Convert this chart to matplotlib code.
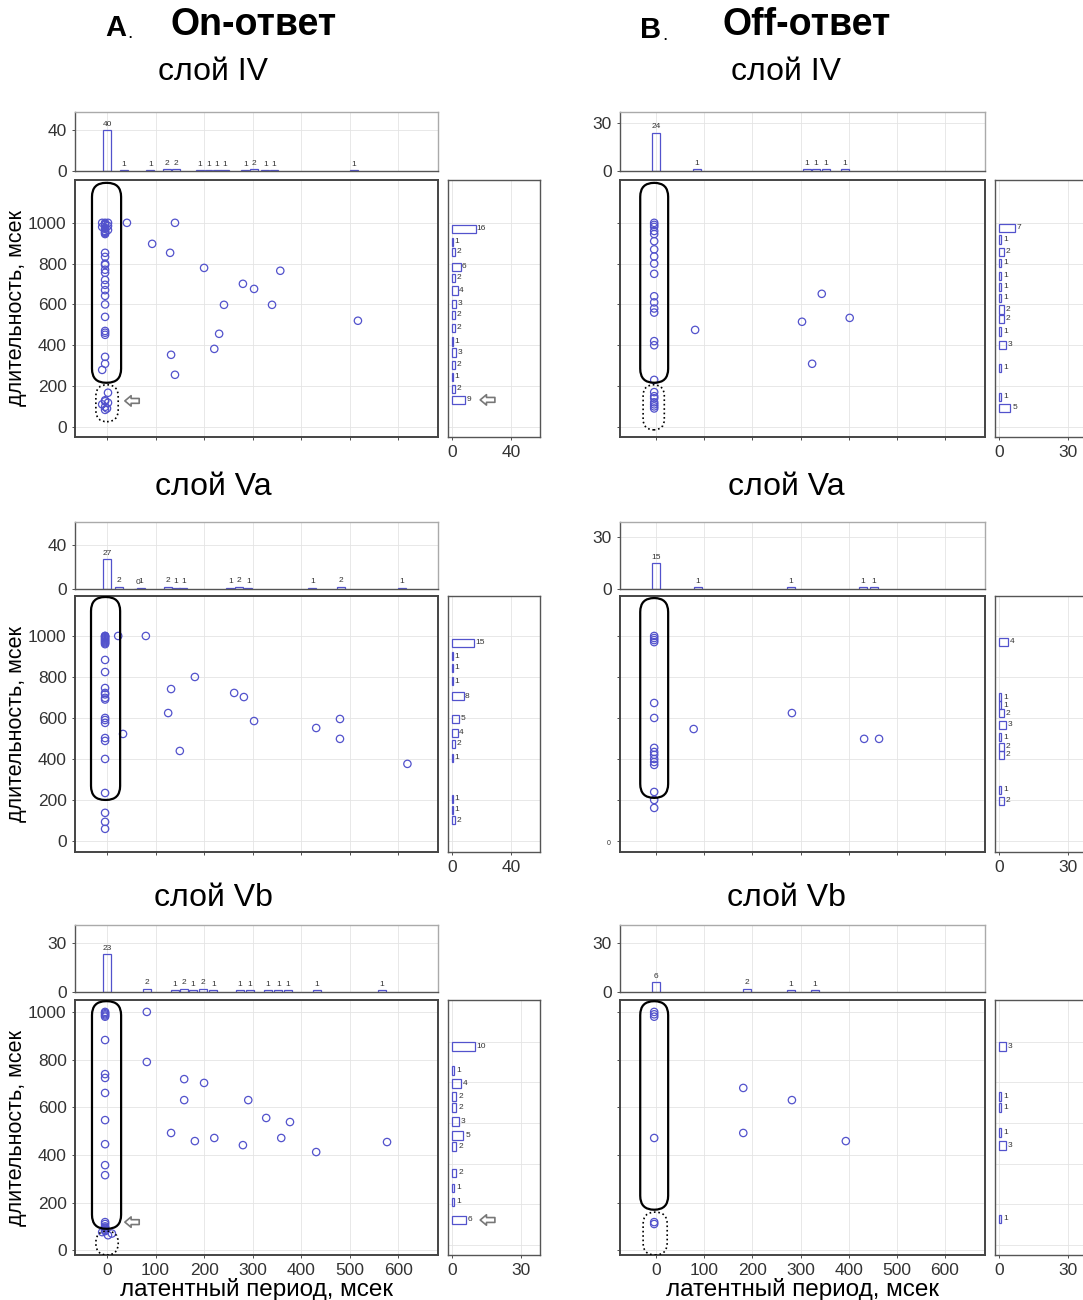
import matplotlib
matplotlib.use('Agg')
import matplotlib.pyplot as plt
from matplotlib.patches import FancyBboxPatch

plt.rcParams['font.family'] = ['Liberation Sans', 'DejaVu Sans']

W, H = 1083, 1300
fig = plt.figure(figsize=(W / 100, H / 100), dpi=100)

BLUE = '#5252cc'

# ---------------- DATA ----------------
# A, layer IV (On)
on_IV_lat = [-10, -4, 2, -4, -4, 2, -10, -4, -4, 2, -4, -4, -4, -4,
             -4, -4, -4, -4, -4, -4, -4, -4, -4, -4, -4, -4, -4, -4, -4, -4,
             -4, -10, 2, -4, -4, 2, -10, -4, 0, -4,
             41, 93, 140, 130, 200, 241, 231, 221, 132, 140, 280, 303, 357, 340, 517]
on_IV_dur = [1000, 1000, 1000, 995, 990, 985, 980, 975, 970, 965, 960, 955, 950, 945,
             853, 833, 800, 794, 770, 755, 720, 696, 670, 642, 600, 539, 470, 461, 451, 343,
             309, 279, 167, 130, 125, 118, 110, 98, 90, 83,
             1000, 897, 1000, 853, 779, 598, 456, 382, 353, 255, 701, 676, 765, 598, 520]
on_IV_lat_bins = [0, 35, 89, 124, 142, 192, 209, 226, 243, 285, 303, 326, 344, 509]
on_IV_lat_counts = [40, 1, 1, 2, 2, 1, 1, 1, 1, 1, 2, 1, 1, 1]
on_IV_dur_bins = [970, 907, 858, 784, 730, 667, 603, 549, 485, 417, 363, 304, 245, 186, 132]
on_IV_dur_counts = [16, 1, 2, 6, 2, 4, 3, 2, 2, 1, 3, 2, 1, 2, 9]

# B, layer IV (Off)
off_IV_lat = [-4, -4, -4, -4, -4, -4, -4, -4, -4, -4, -4, -4, -4, -4, -4, -4, -4,
              -4, -4, -4, -4, -4, -4, -4, 81, 303, 344, 324, 402]
off_IV_dur = [1000, 990, 980, 960, 945, 910, 870, 835, 800, 750, 640, 610, 580,
              560, 420, 400, 230, 170, 150, 140, 120, 110, 100, 90,
              475, 515, 652, 309, 534]
off_IV_lat_bins = [0, 85, 313, 332, 353, 392]
off_IV_lat_counts = [24, 1, 1, 1, 1, 1]
off_IV_dur_bins = [975, 917, 858, 804, 740, 686, 632, 574, 529, 466, 402, 289, 147, 93]
off_IV_dur_counts = [7, 1, 2, 1, 1, 1, 1, 2, 2, 1, 3, 1, 1, 5]

# A, layer Va (On)
on_Va_lat = [-4, -4, -4, -4, -4, -4, -4, -4, -4, -4, -4, -4, -4, -4, -4,
             -4, -4, -4, -4, -4, -4, -4, -4, -4, -4, -4, -4,
             23, 33, 80, 126, 132, 150, 181, 262, 282, 303, 431, 480, 480, 619]
on_Va_dur = [1000, 1000, 995, 990, 985, 980, 975, 970, 965, 960, 883, 824, 746, 722, 715,
             698, 690, 600, 590, 576, 502, 488, 400, 234, 137, 93, 59,
             1000, 522, 1000, 624, 741, 439, 800, 722, 702, 585, 551, 595, 498, 376]
on_Va_lat_bins = [0, 25, 64, 70, 126, 142, 157, 254, 272, 291, 423, 482, 608]
on_Va_lat_counts = [27, 2, 0, 1, 2, 1, 1, 1, 2, 1, 1, 2, 1]
on_Va_dur_bins = [966, 902, 844, 780, 707, 595, 527, 473, 405, 205, 151, 102]
on_Va_dur_counts = [15, 1, 1, 1, 8, 5, 4, 2, 1, 1, 1, 2]

# B, layer Va (Off)
off_Va_lat = [-4, -4, -4, -4, -4, -4, -4, -4, -4, -4, -4, -4, -4, -4, -4,
              78, 282, 432, 463]
off_Va_dur = [1000, 990, 980, 970, 673, 600, 454, 434, 420, 400, 385, 371, 239, 200, 161,
              546, 624, 498, 498]
off_Va_lat_bins = [0, 87, 280, 430, 452]
off_Va_lat_counts = [15, 1, 1, 1, 1]
off_Va_dur_bins = [971, 702, 663, 624, 566, 507, 459, 420, 249, 195]
off_Va_dur_counts = [4, 1, 1, 2, 3, 1, 2, 2, 1, 2]

# A, layer Vb (On)
on_Vb_lat = [-4, -4, -4, -4, -4, -4, -4, -4, -4, -4, -4, -4, -4, -4, -4,
             -4, -4, -4, -4, -4, -10, 2, 10,
             82, 82, 159, 159, 200, 132, 181, 221, 291, 280, 328, 359, 377, 431, 577]
on_Vb_dur = [1000, 995, 990, 985, 980, 882, 739, 723, 660, 546, 445, 357, 315,
             118, 110, 100, 95, 92, 85, 80, 76, 63, 70,
             1000, 790, 718, 630, 702, 492, 458, 471, 630, 441, 555, 471, 538, 412, 454]
on_Vb_lat_bins = [0, 82, 140, 159, 177, 198, 219, 274, 295, 332, 353, 373, 433, 567]
on_Vb_lat_counts = [23, 2, 1, 2, 1, 2, 1, 1, 1, 1, 1, 1, 1, 1]
on_Vb_dur_bins = [975, 857, 793, 729, 675, 606, 537, 483, 355, 281, 212, 123]
on_Vb_dur_counts = [10, 1, 4, 2, 2, 3, 5, 2, 2, 1, 1, 6]

# B, layer Vb (Off)
off_Vb_lat = [-4, -4, -4, -4, -4, -4, 181, 181, 282, 394]
off_Vb_dur = [1000, 990, 980, 471, 118, 110, 681, 492, 630, 458]
off_Vb_lat_bins = [0, 189, 280, 330]
off_Vb_lat_counts = [6, 2, 1, 1]
off_Vb_dur_bins = [975, 729, 675, 552, 489, 128]
off_Vb_dur_counts = [3, 1, 1, 1, 3, 1]

layer_titles = ['слой IV', 'слой Va', 'слой Vb']

# ---------------- LAYOUT (pixels) ----------------
def px_axes(l, t, r, b):
    return fig.add_axes([l / W, 1 - b / H, (r - l) / W, (b - t) / H])


def style(ax, lw=1.0, col='#555555'):
    for s in ax.spines.values():
        s.set_color(col)
        s.set_linewidth(lw)
    ax.grid(True, color='#e4e4e4', lw=0.6)
    ax.set_axisbelow(True)
    ax.tick_params(colors='#333333', length=2.5, width=0.6, labelsize=12.5)


rows = [
    dict(top=(112, 171), main=(180, 437), ylim=(-50, 1210), hylim=(-50, 1210)),
    dict(top=(522, 589), main=(596, 852), ylim=(-54, 1195), hylim=(-54, 1195)),
    dict(top=(925, 992), main=(1000, 1255), ylim=(-20, 1050), hylim=(-49, 1204)),
]

A_data = [
    (on_IV_lat, on_IV_dur, on_IV_lat_bins, on_IV_lat_counts, on_IV_dur_bins, on_IV_dur_counts),
    (on_Va_lat, on_Va_dur, on_Va_lat_bins, on_Va_lat_counts, on_Va_dur_bins, on_Va_dur_counts),
    (on_Vb_lat, on_Vb_dur, on_Vb_lat_bins, on_Vb_lat_counts, on_Vb_dur_bins, on_Vb_dur_counts),
]
B_data = [
    (off_IV_lat, off_IV_dur, off_IV_lat_bins, off_IV_lat_counts, off_IV_dur_bins, off_IV_dur_counts),
    (off_Va_lat, off_Va_dur, off_Va_lat_bins, off_Va_lat_counts, off_Va_dur_bins, off_Va_dur_counts),
    (off_Vb_lat, off_Vb_dur, off_Vb_lat_bins, off_Vb_lat_counts, off_Vb_dur_bins, off_Vb_dur_counts),
]

panels = [
    dict(x=(75, 438), rx=(448, 540), xlim=(-66, 682), data=A_data,
         top_ylims=[(0, 58), (0, 61), (0, 41)], top_ticks=[[0, 40], [0, 40], [0, 30]],
         rxlims=[(-2.7, 59.7), (-2.7, 59.7), (-1.7, 38.5)], r_ticks=[[0, 40], [0, 40], [0, 30]],
         ylabels=True, title_x=213),
    dict(x=(620, 985), rx=(995, 1100), xlim=(-75, 683), data=B_data,
         top_ylims=[(0, 37), (0, 39), (0, 41)], top_ticks=[[0, 30]] * 3,
         rxlims=[(-1.7, 44)] * 3, r_ticks=[[0, 30]] * 3,
         ylabels=False, title_x=786),
]

# oval (solid) and dotted groups, in data units: (x0, x1, y0, y1)
ovals = {
    (0, 0): [(-31, 29, 216, 1196, '-'), (-23, 23, 25, 206, ':')],
    (1, 0): [(-33, 25, 216, 1196, '-'), (-27, 17, -15, 206, ':')],
    (0, 1): [(-33, 27, 200, 1190, '-')],
    (1, 1): [(-33, 25, 210, 1185, '-')],
    (0, 2): [(-31, 29, 90, 1045, '-'), (-23, 23, -20, 80, ':')],
    (1, 2): [(-33, 25, 170, 1045, '-'), (-27, 23, -20, 160, ':')],
}
arrows_main = {(0, 0): 127, (0, 2): 118}
arrows_hist = {(0, 0): 132, (0, 2): 123}


def add_oval(ax, x0, x1, y0, y1, ls):
    bb = ax.get_position()
    wpx = bb.width * W
    hpx = bb.height * H
    xl = ax.get_xlim(); yl = ax.get_ylim()
    ux = (xl[1] - xl[0]) / wpx
    uy = (yl[1] - yl[0]) / hpx
    asp = uy / ux
    r = min((x1 - x0) / 2.0, 14 * ux)
    p = FancyBboxPatch((x0, y0), x1 - x0, y1 - y0,
                       boxstyle='round,pad=0,rounding_size=%f' % r,
                       mutation_aspect=asp, fill=False, ec='black',
                       lw=1.6 if ls == '-' else 1.2, ls=ls, zorder=4)
    ax.add_patch(p)


def add_arrow(ax, xtip, xtail, y):
    ax.annotate('', xy=(xtip, y), xytext=(xtail, y),
                arrowprops=dict(arrowstyle='simple,head_length=0.45,head_width=0.75,tail_width=0.35',
                                fc='white', ec='#777777', lw=1.2), zorder=5)


for pi, P in enumerate(panels):
    for ri, R in enumerate(rows):
        lat, dur, lbins, lcounts, dbins, dcounts = P['data'][ri]
        # top histogram
        axt = px_axes(P['x'][0], R['top'][0], P['x'][1], R['top'][1])
        style(axt)
        axt.bar(lbins, lcounts, width=16, fill=False, edgecolor=BLUE, lw=0.9)
        for b, c in zip(lbins, lcounts):
            axt.text(b, c + (P['top_ylims'][ri][1] * 0.04), str(c), ha='center', va='bottom',
                     fontsize=6, color='#333333')
        axt.set_xlim(P['xlim'])
        axt.set_ylim(P['top_ylims'][ri])
        axt.set_yticks(P['top_ticks'][ri])
        axt.set_xticks(range(0, 700, 100))
        axt.tick_params(axis='x', labelbottom=False, length=0)
        axt.spines['top'].set_color('#aaaaaa')
        axt.spines['right'].set_color('#aaaaaa')

        # main scatter
        axm = px_axes(P['x'][0], R['main'][0], P['x'][1], R['main'][1])
        style(axm, lw=1.4, col='#444444')
        axm.scatter(lat, dur, s=28, facecolors='none', edgecolors=BLUE, linewidths=0.9, zorder=3)
        axm.set_xlim(P['xlim'])
        axm.set_ylim(R['ylim'])
        axm.set_xticks(range(0, 700, 100))
        axm.set_yticks(range(0, 1001, 200))
        if ri < 2:
            axm.tick_params(axis='x', labelbottom=False)
        else:
            axm.set_xlabel('латентный период, мсек', fontsize=17.5, labelpad=0)
        if P['ylabels']:
            axm.set_ylabel('длительность, мсек', fontsize=15.5, labelpad=1)
        else:
            axm.tick_params(axis='y', labelleft=False)
            if ri == 1:
                axm.text(-0.025, 0.035, '0', transform=axm.transAxes, fontsize=5,
                         ha='right', va='center', color='#333333')
        for (x0, x1, y0, y1, ls) in ovals.get((pi, ri), []):
            add_oval(axm, x0, x1, y0, y1, ls)
        if (pi, ri) in arrows_main:
            add_arrow(axm, 31, 72, arrows_main[(pi, ri)])

        # right histogram
        axr = px_axes(P['rx'][0], R['main'][0], P['rx'][1], R['main'][1])
        style(axr)
        axr.barh(dbins, dcounts, height=42, fill=False, edgecolor=BLUE, lw=0.9)
        for b, c in zip(dbins, dcounts):
            axr.text(c + 0.8, b, str(c), ha='left', va='center', fontsize=6, color='#333333')
        axr.set_xlim(P['rxlims'][ri])
        axr.set_ylim(R['hylim'])
        axr.set_xticks(P['r_ticks'][ri])
        axr.set_yticks(range(0, 1001, 200))
        axr.tick_params(axis='y', labelleft=False, length=0)
        if (pi, ri) in arrows_hist:
            xr = P['rxlims'][ri]
            span = xr[1] - xr[0]
            add_arrow(axr, xr[0] + span * 0.32, xr[0] + span * 0.54, arrows_hist[(pi, ri)])

    # layer titles
    for ri, ty in enumerate([72, 487, 898]):
        fig.text(P['title_x'] / W, 1 - ty / H, layer_titles[ri], ha='center', va='center',
                 fontsize=23)

fig.text(105 / W, 1 - 28 / H, 'A', fontsize=21, fontweight='bold', ha='left', va='center')
fig.text(127 / W, 1 - 34 / H, '.', fontsize=14, ha='left', va='center')
fig.text(170 / W, 1 - 25 / H, 'On-ответ', fontsize=27, fontweight='bold', ha='left', va='center')
fig.text(640 / W, 1 - 30 / H, 'B', fontsize=21, fontweight='bold', ha='left', va='center')
fig.text(662 / W, 1 - 35 / H, '.', fontsize=14, ha='left', va='center')
fig.text(722 / W, 1 - 25 / H, 'Off-ответ', fontsize=27, fontweight='bold', ha='left', va='center')

fig.savefig('out.png', dpi=100)
